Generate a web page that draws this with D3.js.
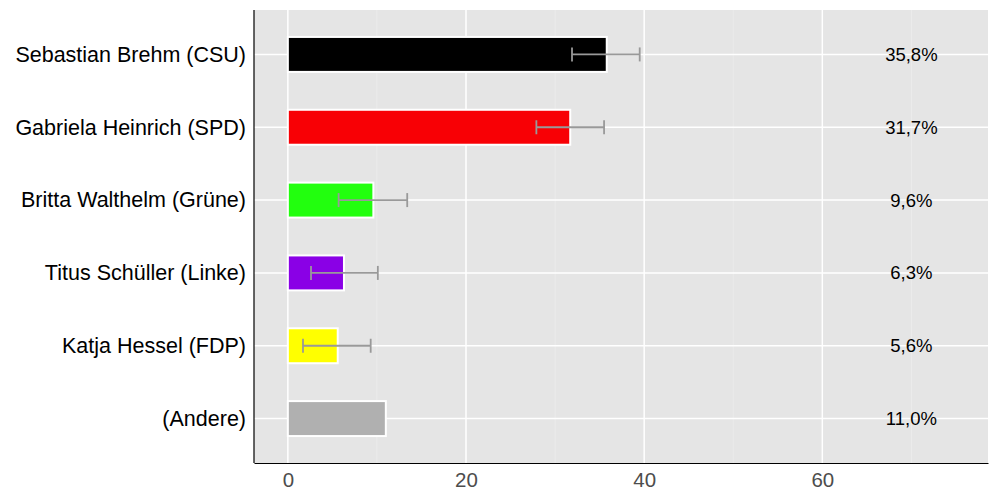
<!DOCTYPE html>
<html>
<head>
<meta charset="utf-8">
<script src="https://cdn.jsdelivr.net/npm/d3@7"></script>
<style>
  body { margin: 0; background: #fff; }
  text { font-family: "Liberation Sans", Arial, Helvetica, sans-serif; }
</style>
</head>
<body>
<div id="chart"></div>
<script>
// data
const candidates = ["Sebastian Brehm (CSU)", "Gabriela Heinrich (SPD)", "Britta Walthelm (Grüne)",
                    "Titus Schüller (Linke)", "Katja Hessel (FDP)", "(Andere)"];
const shares = [35.8, 31.7, 9.6, 6.3, 5.6, 11.0];
const errLow = [31.9, 27.9, 5.7, 2.6, 1.7, null];
const errHigh = [39.5, 35.5, 13.4, 10.1, 9.3, null];
const colours = ["#000000", "#f80005", "#22ff0e", "#8a00e6", "#ffff00", "#b0b0b0"];
const xTicks = [0, 20, 40, 60];
const minorTicks = [10, 30, 50, 70];
const labelPos = 70;

const W = 1000, H = 500;
const margin = { top: 10, right: 12, bottom: 37, left: 254 };
const width = W - margin.left - margin.right,
      height = H - margin.top - margin.bottom;

const svg = d3.select("#chart").append("svg")
  .attr("width", W).attr("height", H);
const g = svg.append("g").attr("transform", `translate(${margin.left},${margin.top})`);

const x = d3.scaleLinear().domain([-3.8, 78.6]).range([0, width]);
// point scale with ggplot-like expansion
const y = d3.scalePoint().domain(candidates).range([0, height]).padding(0.61);
const bh = y.step() * 0.48;

// panel
g.append("rect").attr("width", width).attr("height", height).attr("fill", "#e5e5e5");

// minor grid
g.selectAll(".minor").data(minorTicks).join("line")
  .attr("x1", d => x(d)).attr("x2", d => x(d))
  .attr("y1", 0).attr("y2", height)
  .attr("stroke", "#f0f0f0").attr("stroke-width", 0.6);

// major grid
g.selectAll(".vgrid").data(xTicks).join("line")
  .attr("x1", d => x(d)).attr("x2", d => x(d))
  .attr("y1", 0).attr("y2", height)
  .attr("stroke", "#fff").attr("stroke-width", 1.5);
g.selectAll(".hgrid").data(candidates).join("line")
  .attr("x1", 0).attr("x2", width)
  .attr("y1", d => y(d)).attr("y2", d => y(d))
  .attr("stroke", "#fff").attr("stroke-width", 1.5);

const rows = candidates.map((c, i) => ({ c, v: shares[i], lo: errLow[i], hi: errHigh[i], col: colours[i] }));

// bars
g.selectAll(".bar").data(rows).join("rect")
  .attr("x", x(0))
  .attr("y", d => y(d.c) - bh / 2)
  .attr("width", d => x(d.v) - x(0))
  .attr("height", bh)
  .attr("fill", d => d.col)
  .attr("stroke", "#fff").attr("stroke-width", 2);

// error bars
const eb = g.selectAll(".err").data(rows.filter(d => d.lo != null)).join("g")
  .attr("stroke", "#999").attr("stroke-width", 1.8);
eb.append("line")
  .attr("x1", d => x(d.lo)).attr("x2", d => x(d.hi))
  .attr("y1", d => y(d.c)).attr("y2", d => y(d.c));
eb.append("line")
  .attr("x1", d => x(d.lo)).attr("x2", d => x(d.lo))
  .attr("y1", d => y(d.c) - 7).attr("y2", d => y(d.c) + 7);
eb.append("line")
  .attr("x1", d => x(d.hi)).attr("x2", d => x(d.hi))
  .attr("y1", d => y(d.c) - 7).attr("y2", d => y(d.c) + 7);

// value labels
g.selectAll(".lbl").data(rows).join("text")
  .attr("x", x(labelPos)).attr("y", d => y(d.c))
  .attr("dy", "0.35em").attr("text-anchor", "middle")
  .attr("font-size", 18.5).attr("fill", "#000")
  .text(d => d.v.toFixed(1).replace(".", ",") + "%");

// axes
const xAxis = g.append("g").attr("transform", `translate(0,${height})`)
  .call(d3.axisBottom(x).tickValues(xTicks).tickSize(0).tickPadding(9));
xAxis.select(".domain").attr("stroke", "#000").attr("stroke-width", 1.2);
xAxis.selectAll("text").attr("font-size", 20.5).attr("fill", "#4d4d4d")
  .style("font-family", '"Liberation Sans", Arial, sans-serif');

const yAxis = g.append("g").call(d3.axisLeft(y).tickSize(0).tickPadding(8));
yAxis.select(".domain").remove();
g.append("line").attr("x1", 0).attr("x2", 0).attr("y1", 0).attr("y2", height)
  .attr("stroke", "#000").attr("stroke-width", 1.2);
yAxis.selectAll("text").attr("font-size", 21.5).attr("fill", "#000")
  .style("font-family", '"Liberation Sans", Arial, sans-serif');
</script>
</body>
</html>
